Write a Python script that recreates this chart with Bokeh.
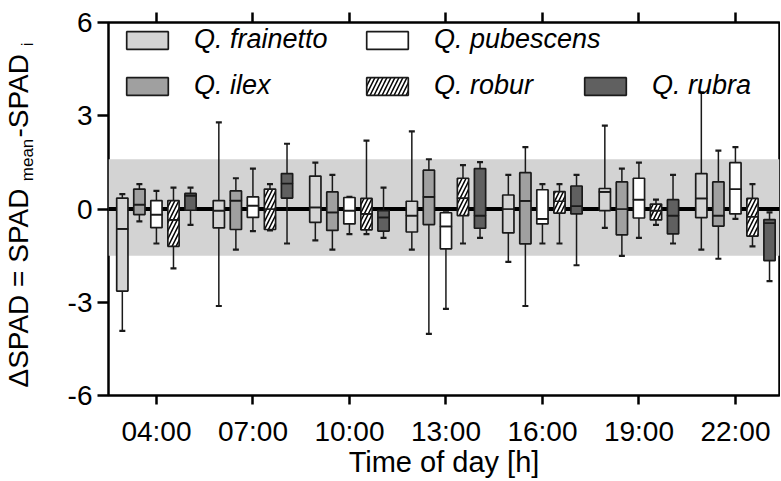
from bokeh.plotting import figure
from bokeh.layouts import row
from bokeh.models import (ColumnDataSource, FixedTicker, LinearAxis, Range1d,
                          BoxAnnotation, Span, Legend, LegendItem)
from bokeh.core.properties import value
from bokeh.transform import dodge
from bokeh.embed import file_html
from bokeh.resources import INLINE
import math

# ---------------- data ----------------
hours = [4, 7, 10, 13, 16, 19, 22]
tick_labels = ["04:00", "07:00", "10:00", "13:00", "16:00", "19:00", "22:00"]
y_ticks = [-6, -3, 0, 3, 6]
y_tick_labels = ["-6", "-3", "0", "3", "6"]

species = ["Q. frainetto", "Q. ilex", "Q. pubescens", "Q. robur", "Q. rubra"]

frainetto_upper = [0.48, 2.79, 1.49, 2.50, 1.10, 2.68, 3.75]
frainetto_q3 = [0.35, 0.27, 1.06, 0.25, 0.45, 0.66, 1.14]
frainetto_med = [-0.64, -0.05, 0.05, -0.21, 0.00, 0.55, 0.34]
frainetto_q1 = [-2.64, -0.61, -0.43, -0.74, -0.77, -0.05, -0.28]
frainetto_lower = [-3.92, -3.12, -1.01, -1.31, -1.70, -0.61, -1.31]

ilex_upper = [0.80, 0.99, 1.10, 1.60, 1.99, 1.30, 1.88]
ilex_q3 = [0.64, 0.58, 0.55, 1.25, 1.17, 0.87, 0.87]
ilex_med = [0.14, 0.27, -0.11, 0.39, 0.26, 0.00, -0.21]
ilex_q1 = [-0.18, -0.66, -0.69, -0.50, -1.12, -0.83, -0.55]
ilex_lower = [-0.40, -1.31, -1.31, -4.02, -3.12, -1.51, -1.60]

pubescens_upper = [0.58, 1.30, 0.39, -0.11, 0.80, 1.49, 1.99]
pubescens_q3 = [0.27, 0.39, 0.37, -0.12, 0.62, 0.99, 1.49]
pubescens_med = [-0.18, 0.11, -0.05, -0.56, -0.32, 0.30, 0.64]
pubescens_q1 = [-0.60, -0.27, -0.48, -1.28, -0.48, -0.29, -0.16]
pubescens_lower = [-1.11, -0.71, -0.81, -3.21, -1.11, -0.93, -0.32]

robur_upper = [0.69, 0.80, 2.20, 1.41, 0.80, 0.30, 0.80]
robur_q3 = [0.27, 0.64, 0.34, 0.99, 0.56, 0.16, 0.34]
robur_med = [-0.35, 0.00, -0.16, 0.35, 0.25, -0.05, -0.25]
robur_q1 = [-1.20, -0.66, -0.67, -0.21, -0.13, -0.35, -0.87]
robur_lower = [-1.91, -0.69, -0.81, -1.11, -1.11, -0.51, -1.20]

rubra_upper = [0.69, 2.10, 0.69, 1.51, 1.10, 1.10, -0.11]
rubra_q3 = [0.50, 1.14, -0.05, 1.30, 0.74, 0.30, -0.34]
rubra_med = [0.43, 0.82, -0.27, -0.21, 0.09, -0.21, -0.45]
rubra_q1 = [-0.04, 0.35, -0.71, -0.62, -0.16, -0.80, -1.66]
rubra_lower = [-0.51, -1.11, -0.93, -0.93, -1.81, -1.11, -2.32]

band_low, band_high = -1.5, 1.6

# y-axis title pieces (main text and subscripts)
ylabel_parts = ["\u0394SPAD = SPAD", "mean", "-SPAD", "i"]

series = {
    "Q. frainetto": (frainetto_lower, frainetto_q1, frainetto_med, frainetto_q3, frainetto_upper),
    "Q. ilex": (ilex_lower, ilex_q1, ilex_med, ilex_q3, ilex_upper),
    "Q. pubescens": (pubescens_lower, pubescens_q1, pubescens_med, pubescens_q3, pubescens_upper),
    "Q. robur": (robur_lower, robur_q1, robur_med, robur_q3, robur_upper),
    "Q. rubra": (rubra_lower, rubra_q1, rubra_med, rubra_q3, rubra_upper),
}

# ---------------- styles ----------------
FONT = "Liberation Sans"
fills = {"Q. frainetto": "#d4d4d4", "Q. ilex": "#a0a0a0", "Q. pubescens": "#ffffff",
         "Q. robur": "#ffffff", "Q. rubra": "#606060"}
offsets = {"Q. frainetto": -1.06, "Q. ilex": -0.53, "Q. pubescens": 0.0,
           "Q. robur": 0.53, "Q. rubra": 1.06}
EDGE = "#1a1a1a"
H = 480
LEFT_W = 44
FRAME_TOP, FRAME_BOTTOM = 22, 398

# ---------------- y-title strip (screen-like coordinates) ----------------
lf = figure(width=LEFT_W, height=H, x_range=Range1d(0, LEFT_W),
            y_range=Range1d(H - FRAME_BOTTOM, H - FRAME_TOP),
            x_axis_type=None, y_axis_type=None, output_backend="svg", toolbar_location=None,
            title_location=None,
            min_border_left=0, min_border_right=0, min_border_top=FRAME_TOP,
            min_border_bottom=H - FRAME_BOTTOM)
lf.outline_line_color = None
lf.grid.visible = False
lab_src = ColumnDataSource(dict(
    x=[18, 27, 18, 27],
    y=[H - 390, H - 182, H - 138, H - 46],
    text=ylabel_parts,
    size=["28px", "17px", "28px", "17px"],
))
lf.text(x="x", y="y", text="text", source=lab_src, angle=math.pi / 2,
        text_font=value(FONT), text_font_size="size", text_color="black",
        text_align="left", text_baseline="alphabetic")

# ---------------- main plot ----------------
p = figure(width=780 - LEFT_W, height=H, x_range=Range1d(2.51, 23.37), y_range=Range1d(-6, 6),
           output_backend="svg", toolbar_location=None,
           min_border_left=108 - LEFT_W, min_border_right=1, min_border_top=FRAME_TOP,
           min_border_bottom=H - FRAME_BOTTOM)
p.grid.visible = False
p.outline_line_color = "black"
p.outline_line_width = 2.5
p.background_fill_color = "white"

# bottom axis
xa = p.xaxis[0]
xa.ticker = FixedTicker(ticks=hours)
xa.major_label_overrides = {h: t for h, t in zip(hours, tick_labels)}
xa.axis_line_color = None
xa.major_tick_out = 9
xa.major_tick_in = 0
xa.major_tick_line_width = 2.5
xa.minor_tick_line_color = None
xa.major_label_text_font = FONT
xa.major_label_text_font_size = "28px"
xa.major_label_text_color = "black"
xa.major_label_standoff = 11
xa.axis_label = "Time of day [h]"
xa.axis_label_text_font = FONT
xa.axis_label_text_font_size = "29px"
xa.axis_label_text_font_style = "normal"
xa.axis_label_text_color = "black"
xa.axis_label_standoff = -4

# left axis
ya = p.yaxis[0]
ya.ticker = FixedTicker(ticks=y_ticks)
ya.major_label_overrides = {t: s for t, s in zip(y_ticks, y_tick_labels)}
ya.axis_line_color = None
ya.major_tick_out = 11
ya.major_tick_in = 0
ya.major_tick_line_width = 2.5
ya.minor_tick_line_color = None
ya.major_label_text_font = FONT
ya.major_label_text_font_size = "28px"
ya.major_label_text_color = "black"
ya.major_label_standoff = 5

# top axis: ticks only
top = LinearAxis(ticker=FixedTicker(ticks=hours), axis_line_color=None,
                 major_tick_out=10, major_tick_in=0, major_tick_line_width=2.5,
                 minor_tick_line_color=None, major_label_text_font_size="1px",
                 major_label_text_color=None, major_label_standoff=0)
p.add_layout(top, "above")

# band and zero line
p.add_layout(BoxAnnotation(bottom=band_low, top=band_high, fill_color="#d3d3d3",
                           fill_alpha=1, line_color=None, level="underlay"))
p.add_layout(Span(location=0, dimension="width", line_color="black", line_width=4,
                  level="underlay"))

box_renderers = {}
for name in species:
    lower, q1, med, q3, upper = series[name]
    src = ColumnDataSource(dict(hour=hours, lower=lower, q1=q1, med=med, q3=q3, upper=upper))
    xd = dodge("hour", offsets[name], range=p.x_range)
    p.segment(x0=xd, y0="lower", x1=xd, y1="upper", source=src,
              line_color=EDGE, line_width=1.5)
    for col in ("lower", "upper"):
        p.scatter(x=xd, y=col, source=src, marker="dash", size=6,
                  line_color=EDGE, line_width=2.2)
    hatch = dict(hatch_pattern="/", hatch_color="black", hatch_scale=8,
                 hatch_weight=1.5) if name == "Q. robur" else {}
    r = p.vbar(x=xd, width=0.35, bottom="q1", top="med", source=src,
               fill_color=fills[name], line_color=EDGE, line_width=1.7, **hatch)
    p.vbar(x=xd, width=0.35, bottom="med", top="q3", source=src,
           fill_color=fills[name], line_color=EDGE, line_width=1.7, **hatch)
    box_renderers[name] = r


def add_legend(names, x, y):
    lg = Legend(items=[LegendItem(label=n, renderers=[box_renderers[n]]) for n in names],
                location=(x, y), orientation="vertical",
                glyph_width=52, glyph_height=22, label_standoff=21,
                label_text_font=FONT, label_text_font_style="italic",
                label_text_font_size="27px", label_text_color="black",
                label_height=30, spacing=15, padding=0, margin=0,
                border_line_color=None, background_fill_alpha=0)
    p.add_layout(lg, "center")


add_legend(["Q. frainetto", "Q. ilex"], 13, 294)
add_legend(["Q. pubescens", "Q. robur"], 253, 294)
add_legend(["Q. rubra"], 471, 294)

open("out.html", "w").write(file_html(row(lf, p), INLINE))
